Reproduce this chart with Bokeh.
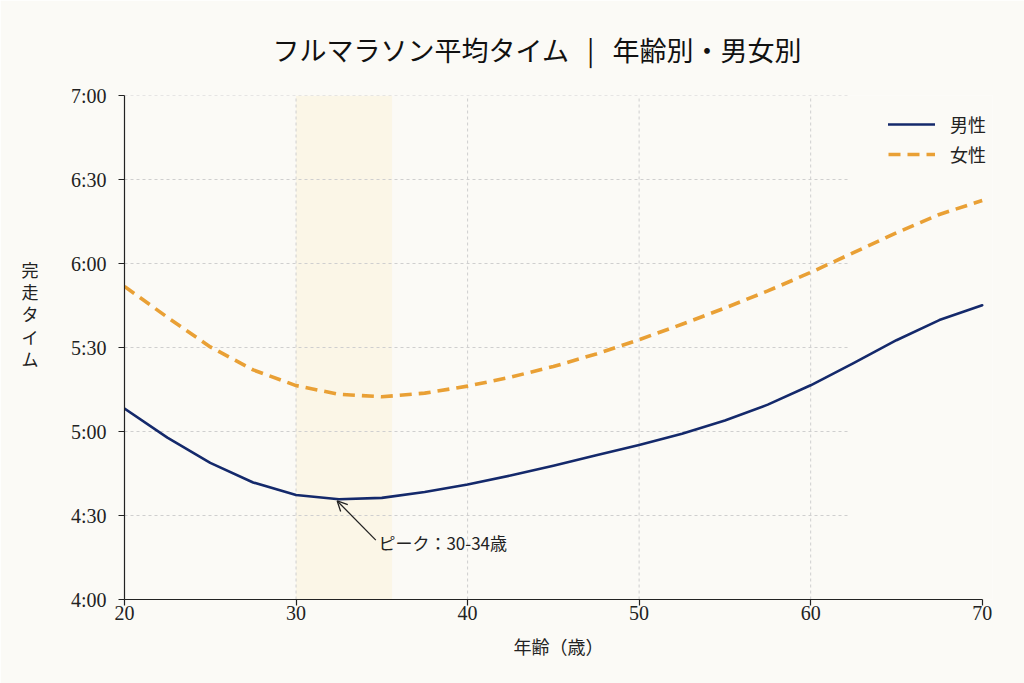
import numpy as np
from bokeh.plotting import figure
from bokeh.models import (FixedTicker, BoxAnnotation, Label, Legend, LegendItem,
                          Arrow, OpenHead, LinearAxis)
from bokeh.embed import file_html
from bokeh.resources import INLINE

# ---- data -------------------------------------------------------------
ages = [20, 22.5, 25, 27.5, 30, 32.5, 35, 37.5, 40, 42.5, 45, 47.5,
        50, 52.5, 55, 57.5, 60, 62.5, 65, 67.5, 70]
# average finish time in minutes
male_minutes = [308.2, 297.8, 288.8, 281.8, 277.3, 275.8, 276.3, 278.4,
                281.1, 284.3, 287.8, 291.5, 295.2, 299.2, 303.9, 309.6,
                316.5, 324.4, 332.6, 339.8, 345.1]
female_minutes = [351.8, 340.8, 330.2, 322.0, 316.4, 313.3, 312.4, 313.7,
                  316.2, 319.4, 323.2, 327.7, 332.8, 338.3, 344.1, 350.2,
                  356.8, 363.9, 371.0, 377.5, 382.5]
series_names = ["男性", "女性"]

x_ticks = [20, 30, 40, 50, 60, 70]
y_ticks = [240, 270, 300, 330, 360, 390, 420]
y_tick_labels = ["4:00", "4:30", "5:00", "5:30", "6:00", "6:30", "7:00"]

peak_band = (30, 35.6)
peak_text = "ピーク：30-34歳"
title_text = "フルマラソン平均タイム\u00a0\u00a0\u00a0|\u00a0\u00a0\u00a0年齢別・男女別"
x_title = "年齢（歳）"
y_title = "完走タイム"

# ---- style ------------------------------------------------------------
BG = "#FBFAF6"
BAND = "#FBF6E7"
NAVY = "#14296B"
ORANGE = "#E9A035"
INK = "#222222"
GRID = "#CFCFCF"
JP = "Noto Sans CJK JP"
NUM = "Liberation Serif"

# x range runs a little past 70 so the legend labels have room
p = figure(width=1024, height=683, x_range=(20, 70.6), y_range=(240, 420),
           output_backend="svg", toolbar_location=None,
           min_border_left=124, min_border_right=32,
           min_border_top=95, min_border_bottom=84,
           background_fill_color=BG, border_fill_color=BG,
           outline_line_color=None)

p.title.text = title_text
p.title.align = "left"
p.title.offset = 148
p.title.text_font = JP
p.title.text_font_size = "27px"
p.title.text_font_style = "normal"
p.title.text_color = "#111111"
p.title.standoff = 54

p.xgrid.visible = False
p.ygrid.visible = False

# highlighted peak-age band
p.add_layout(BoxAnnotation(left=peak_band[0], right=peak_band[1],
                           fill_color=BAND, fill_alpha=1.0,
                           line_color=None, level="underlay"))

# dotted grid
grid_x_end = 62.2
h_ticks = [t for t in y_ticks if t > y_ticks[0]]
p.segment(x0=[x_ticks[0]] * len(h_ticks), x1=[grid_x_end] * len(h_ticks),
          y0=h_ticks, y1=h_ticks, line_color=GRID, line_width=1,
          line_dash="3 3")
v_ticks = x_ticks[1:-1]
p.segment(x0=v_ticks, x1=v_ticks, y0=[y_ticks[0]] * len(v_ticks),
          y1=[y_ticks[-1]] * len(v_ticks), line_color=GRID, line_width=1,
          line_dash="3 3")

# series
r_m = p.line(ages, male_minutes, line_color=NAVY, line_width=2.6,
             line_join="round", line_cap="round")
r_f = p.line(ages, female_minutes, line_color=ORANGE, line_width=3.6,
             line_dash="12 7", line_join="round")

# axes
for ax in (p.xaxis[0], p.yaxis[0]):
    ax.axis_line_color = INK
    ax.axis_line_width = 1.2
    ax.major_tick_line_color = INK
    ax.major_tick_line_width = 1.2
    ax.major_tick_out = 6
    ax.major_tick_in = 0
    ax.minor_tick_line_color = None
    ax.major_label_text_font = NUM
    ax.major_label_text_font_size = "20px"
    ax.major_label_text_color = INK
    ax.axis_label_text_font = JP
    ax.axis_label_text_font_size = "18px"
    ax.axis_label_text_font_style = "normal"
    ax.axis_label_text_color = INK

p.xaxis.ticker = FixedTicker(ticks=x_ticks)
p.xaxis.bounds = (x_ticks[0], x_ticks[-1])
p.xaxis.major_label_standoff = 0
p.xaxis.axis_label = x_title
p.xaxis.axis_label_standoff = 10

p.yaxis.ticker = FixedTicker(ticks=y_ticks)
p.yaxis.major_label_overrides = dict(zip(y_ticks, y_tick_labels))
p.yaxis.major_label_standoff = 12

# vertical axis title: upright characters stacked top to bottom,
# carried by a bare axis whose tick labels are the characters
title_mid, title_step = 342.0, 8.0
char_pos = [title_mid + title_step * (len(y_title) / 2 - 0.5 - i)
            for i in range(len(y_title))]
title_axis = LinearAxis(ticker=FixedTicker(ticks=char_pos),
                        major_label_overrides=dict(zip(char_pos, y_title)),
                        axis_line_color=None, major_tick_line_color=None,
                        minor_tick_line_color=None, major_tick_out=0,
                        major_tick_in=0, major_label_standoff=29,
                        major_label_text_font=JP,
                        major_label_text_font_size="17px",
                        major_label_text_color=INK)
p.add_layout(title_axis, "left")

# peak annotation pointing at the men's minimum
i_peak = int(np.argmin(male_minutes))
peak_x, peak_y = ages[i_peak], male_minutes[i_peak]
p.add_layout(Arrow(end=OpenHead(size=10, line_width=1.3, line_color=INK),
                   x_start=peak_x + 2.15, y_start=peak_y - 14.6,
                   x_end=peak_x - 0.1, y_end=peak_y - 0.6,
                   line_color=INK, line_width=1.3))
p.add_layout(Label(x=peak_x + 2.3, y=peak_y - 15.4, text=peak_text,
                   text_font=JP, text_font_size="17px",
                   text_color=INK, text_align="left", text_baseline="middle"))

legend = Legend(items=[LegendItem(label=series_names[0], renderers=[r_m]),
                       LegendItem(label=series_names[1], renderers=[r_f])],
                location=(764, 432), glyph_width=47, glyph_height=20,
                spacing=4, padding=10, margin=0, label_standoff=15,
                label_text_font=JP, label_text_font_size="18px",
                label_text_color=INK, background_fill_alpha=0,
                border_line_color=None)
p.add_layout(legend)

open("out.html", "w").write(file_html(p, INLINE))
